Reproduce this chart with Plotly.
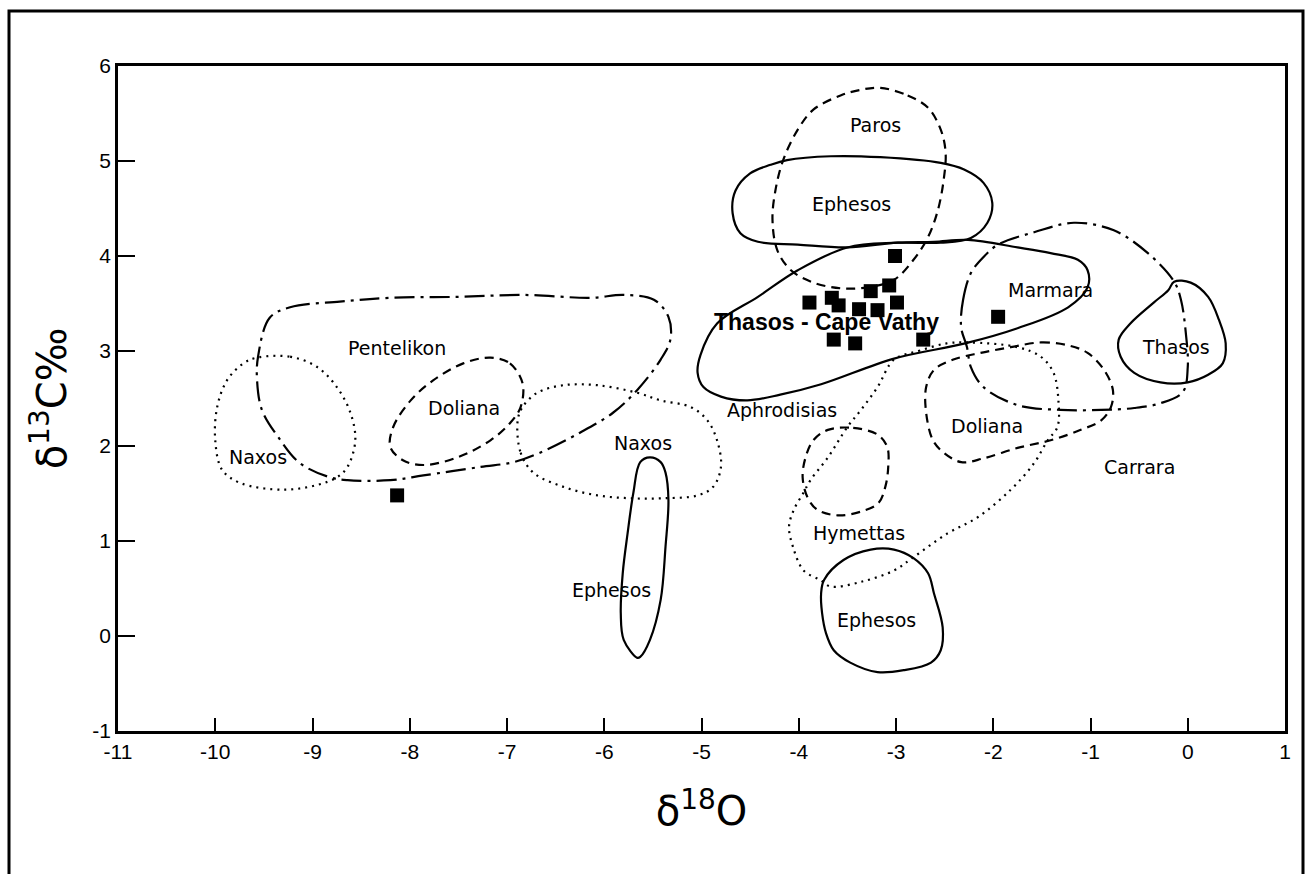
import plotly.graph_objects as go

# ---------------- data ----------------
x_ticks = [-11, -10, -9, -8, -7, -6, -5, -4, -3, -2, -1, 0, 1]
x_tick_labels = ["-11", "-10", "-9", "-8", "-7", "-6", "-5", "-4", "-3", "-2", "-1", "0", "1"]
y_ticks = [-1, 0, 1, 2, 3, 4, 5, 6]
y_tick_labels = ["-1", "0", "1", "2", "3", "4", "5", "6"]

# samples (filled squares)
sample_d18o = [-3.01, -3.07, -3.26, -3.89, -3.66, -3.59, -3.38, -3.19, -2.99, -3.64, -3.42, -2.72, -1.95, -8.13]
sample_d13c = [4.00, 3.69, 3.63, 3.51, 3.56, 3.48, 3.44, 3.43, 3.51, 3.12, 3.08, 3.12, 3.36, 1.48]

# field outlines (vertices)
pentelikon_x = [-9.44, -9.23, -8.72, -8.20, -7.51, -6.83, -6.14, -5.80, -5.49, -5.34, -5.32, -5.42, -5.66, -5.91,
                -6.25, -6.66, -6.93, -7.27, -7.86, -8.20, -8.64, -8.82, -9.13, -9.35, -9.52, -9.57, -9.56]
pentelikon_y = [3.35, 3.46, 3.52, 3.56, 3.57, 3.59, 3.56, 3.59, 3.54, 3.36, 3.12, 2.91, 2.59, 2.35,
                2.14, 1.93, 1.83, 1.78, 1.69, 1.64, 1.64, 1.67, 1.82, 2.09, 2.38, 2.69, 2.94]

naxos_w_x = [-9.57, -9.23, -8.95, -8.75, -8.61, -8.56, -8.64, -8.75, -8.95, -9.30, -9.74, -9.93, -10.00, -9.98, -9.88, -9.71]
naxos_w_y = [2.93, 2.94, 2.83, 2.62, 2.35, 2.06, 1.78, 1.67, 1.59, 1.54, 1.61, 1.75, 2.06, 2.41, 2.69, 2.87]

doliana_w_x = [-7.17, -6.97, -6.84, -6.86, -6.97, -7.17, -7.51, -7.86, -8.07, -8.20, -8.17, -7.99, -7.76, -7.45]
doliana_w_y = [2.93, 2.87, 2.66, 2.41, 2.24, 2.06, 1.88, 1.80, 1.85, 1.99, 2.20, 2.48, 2.69, 2.87]

naxos_m_x = [-6.89, -6.86, -6.73, -6.42, -6.07, -5.73, -5.39, -5.04, -4.88, -4.80, -4.84, -4.94, -5.11, -5.42,
             -5.66, -6.07, -6.42, -6.69, -6.84]
naxos_m_y = [2.27, 1.93, 1.72, 1.57, 1.48, 1.45, 1.45, 1.48, 1.57, 1.78, 2.06, 2.27, 2.41, 2.48,
             2.56, 2.64, 2.64, 2.56, 2.41]

ephesos_v_x = [-5.53, -5.42, -5.37, -5.34, -5.37, -5.42, -5.53, -5.63, -5.66, -5.80, -5.83, -5.81, -5.76, -5.70, -5.63]
ephesos_v_y = [1.88, 1.83, 1.72, 1.43, 0.94, 0.38, -0.04, -0.22, -0.23, -0.04, 0.24, 0.66, 1.08, 1.51, 1.83]

paros_x = [-3.16, -2.88, -2.67, -2.54, -2.49, -2.51, -2.57, -2.67, -2.82, -3.02, -3.29, -3.57, -3.85, -4.08,
           -4.22, -4.27, -4.24, -4.16, -4.01, -3.85, -3.57, -3.36]
paros_y = [5.77, 5.69, 5.56, 5.33, 5.09, 4.80, 4.48, 4.20, 3.96, 3.75, 3.67, 3.66, 3.72, 3.85,
           4.06, 4.38, 4.69, 5.01, 5.33, 5.54, 5.69, 5.75]

ephesos_t_x = [-4.12, -3.67, -3.16, -2.54, -2.30, -2.10, -2.01, -2.06, -2.23, -2.54, -2.98, -3.50, -4.01,
               -4.42, -4.60, -4.68, -4.65, -4.50, -4.29]
ephesos_t_y = [5.01, 5.05, 5.04, 4.98, 4.91, 4.77, 4.56, 4.35, 4.19, 4.14, 4.14, 4.09, 4.12,
               4.15, 4.24, 4.45, 4.69, 4.87, 4.96]

thasos_cv_x = [-3.50, -4.01, -4.42, -4.84, -5.01, -5.04, -4.98, -4.80, -4.53, -4.19, -3.77, -3.02, -2.29,
               -1.75, -1.23, -1.03, -1.03, -1.13, -1.41, -1.75, -2.26, -2.61, -2.98]
thasos_cv_y = [4.09, 3.85, 3.57, 3.29, 2.96, 2.77, 2.62, 2.52, 2.48, 2.54, 2.65, 2.92, 3.08,
               3.24, 3.46, 3.67, 3.85, 3.96, 4.03, 4.09, 4.17, 4.15, 4.14]

marmara_x = [-2.33, -2.31, -2.23, -2.10, -1.95, -1.58, -1.17, -0.76, -0.41, -0.14, -0.07, -0.02, 0.00,
             -0.05, -0.28, -0.55, -0.89, -1.31, -1.75, -2.10, -2.23, -2.27]
marmara_y = [3.25, 3.54, 3.82, 3.99, 4.12, 4.25, 4.35, 4.27, 4.03, 3.73, 3.54, 3.19, 2.83,
             2.57, 2.45, 2.40, 2.38, 2.38, 2.43, 2.62, 2.83, 3.04]

thasos_e_x = [-0.14, 0.03, 0.21, 0.32, 0.39, 0.36, 0.21, 0.00, -0.28, -0.55, -0.69, -0.71, -0.59, -0.35, -0.20]
thasos_e_y = [3.73, 3.72, 3.57, 3.33, 3.08, 2.87, 2.75, 2.67, 2.67, 2.77, 2.94, 3.12, 3.29, 3.51, 3.64]

doliana_e_x = [-1.82, -1.51, -1.23, -1.03, -0.86, -0.77, -0.79, -0.89, -1.10, -1.41, -1.75, -2.10, -2.33,
               -2.51, -2.62, -2.69, -2.69, -2.61, -2.41, -2.13]
doliana_e_y = [3.04, 3.09, 3.06, 2.98, 2.80, 2.59, 2.41, 2.27, 2.17, 2.06, 1.98, 1.87, 1.83,
               1.93, 2.06, 2.35, 2.62, 2.80, 2.91, 2.98]

carrara_x = [-3.02, -2.77, -2.48, -2.25, -1.75, -1.51, -1.38, -1.33, -1.34, -1.44, -1.58, -1.82, -2.16,
             -2.47, -2.82, -3.02, -3.36, -3.67, -3.78, -3.95, -4.06, -4.10, -4.05, -3.95, -3.88, -3.70,
             -3.50, -3.36, -3.19]
carrara_y = [2.91, 3.00, 3.08, 3.09, 3.04, 2.94, 2.77, 2.48, 2.20, 2.06, 1.82, 1.54, 1.25,
             1.08, 0.83, 0.69, 0.57, 0.52, 0.59, 0.69, 0.94, 1.15, 1.33, 1.51, 1.64, 1.88,
             2.20, 2.38, 2.62]

hymettas_x = [-3.70, -3.44, -3.19, -3.09, -3.08, -3.11, -3.18, -3.36, -3.60, -3.81, -3.91, -3.96, -3.93, -3.85]
hymettas_y = [2.17, 2.19, 2.12, 1.99, 1.78, 1.57, 1.40, 1.31, 1.27, 1.33, 1.46, 1.67, 1.88, 2.06]

ephesos_b_x = [-3.74, -3.54, -3.26, -3.02, -2.82, -2.67, -2.61, -2.52, -2.54, -2.64, -2.92, -3.19, -3.47,
               -3.64, -3.72, -3.76, -3.77]
ephesos_b_y = [0.59, 0.80, 0.91, 0.91, 0.82, 0.66, 0.45, 0.09, -0.15, -0.28, -0.36, -0.38, -0.28,
               -0.15, 0.03, 0.24, 0.45]

# labels
label_text = ["Paros", "Ephesos", "Marmara", "Thasos", "Pentelikon", "Doliana", "Naxos", "Naxos",
              "Aphrodisias", "Doliana", "Carrara", "Hymettas", "Ephesos", "Ephesos"]
label_x = [-3.21, -3.46, -1.41, -0.12, -8.13, -7.44, -9.56, -5.60, -4.17, -2.06, -0.50, -3.38, -5.93, -3.20]
label_y = [5.38, 4.55, 3.64, 3.04, 3.03, 2.40, 1.88, 2.03, 2.38, 2.21, 1.78, 1.08, 0.48, 0.17]
bold_label = "Thasos - Cape Vathy"
bold_label_x = -3.71
bold_label_y = 3.31

# ---------------- styles ----------------
SOLID = "solid"
DASH = "9px,6px"
DOT = "2px,5px"
DASHDOT = "20px,6px,3px,6px"

fields = [
    ("Pentelikon", pentelikon_x, pentelikon_y, DASHDOT),
    ("Naxos (west)", naxos_w_x, naxos_w_y, DOT),
    ("Doliana (west)", doliana_w_x, doliana_w_y, DASH),
    ("Naxos", naxos_m_x, naxos_m_y, DOT),
    ("Ephesos (low δ18O)", ephesos_v_x, ephesos_v_y, SOLID),
    ("Paros", paros_x, paros_y, DASH),
    ("Ephesos (high δ13C)", ephesos_t_x, ephesos_t_y, SOLID),
    ("Thasos - Cape Vathy", thasos_cv_x, thasos_cv_y, SOLID),
    ("Marmara", marmara_x, marmara_y, DASHDOT),
    ("Thasos", thasos_e_x, thasos_e_y, SOLID),
    ("Doliana", doliana_e_x, doliana_e_y, DASH),
    ("Carrara / Aphrodisias", carrara_x, carrara_y, DOT),
    ("Hymettas", hymettas_x, hymettas_y, DASH),
    ("Ephesos (low δ13C)", ephesos_b_x, ephesos_b_y, SOLID),
]

fig = go.Figure()
for name, xs, ys, dash in fields:
    fig.add_trace(go.Scatter(
        x=list(xs) + [xs[0]], y=list(ys) + [ys[0]],
        mode="lines", name=name,
        line=dict(color="black", width=2.2, dash=dash, shape="spline", smoothing=1.0),
        hoverinfo="name", showlegend=False,
    ))

fig.add_trace(go.Scatter(
    x=sample_d18o, y=sample_d13c, mode="markers", name="samples",
    marker=dict(symbol="square", size=14, color="black", line=dict(width=0)),
    showlegend=False,
))

for t, lx, ly in zip(label_text, label_x, label_y):
    fig.add_annotation(x=lx, y=ly, xref="x", yref="y", text=t, showarrow=False,
                       font=dict(family="DejaVu Sans", size=19, color="black"),
                       xanchor="center", yanchor="middle")
fig.add_annotation(x=bold_label_x, y=bold_label_y, xref="x", yref="y", text="<b>" + bold_label + "</b>",
                   showarrow=False, font=dict(family="Liberation Sans, Arial", size=23, color="black"),
                   xanchor="center", yanchor="middle")

axis_common = dict(
    showgrid=False, zeroline=False, showline=True, linecolor="black", linewidth=2.5,
    mirror=True, ticks="inside", tickcolor="black", tickwidth=2,
    tickfont=dict(family="Liberation Sans, Arial", size=21, color="black"),
)

fig.update_xaxes(range=[-11, 1], tickvals=x_ticks, ticktext=x_tick_labels, ticklen=13,
                 title=dict(text="δ<sup>18</sup>O", font=dict(family="DejaVu Sans", size=40, color="black"),
                            standoff=36),
                 **axis_common)
fig.update_yaxes(range=[-1, 6], tickvals=y_ticks, ticktext=y_tick_labels, ticklen=17,
                 title=dict(text="δ<sup>13</sup>C‰", font=dict(family="DejaVu Sans", size=40, color="black"),
                            standoff=14),
                 **axis_common)

# outer frame of the figure
fig.add_shape(type="rect", xref="paper", yref="paper",
              x0=(9 - 118) / 1167, x1=(1303 - 118) / 1167,
              y0=(731 - 900) / 665, y1=(731 - 11) / 665,
              line=dict(color="black", width=3), fillcolor="rgba(0,0,0,0)", layer="above")

fig.update_layout(
    width=1306, height=874,
    margin=dict(l=118, r=21, t=66, b=143, autoexpand=False),
    paper_bgcolor="white", plot_bgcolor="white",
    showlegend=False,
)

fig.write_html("out.html", config={"displayModeBar": False},
               post_script="document.body.style.margin='0';")
